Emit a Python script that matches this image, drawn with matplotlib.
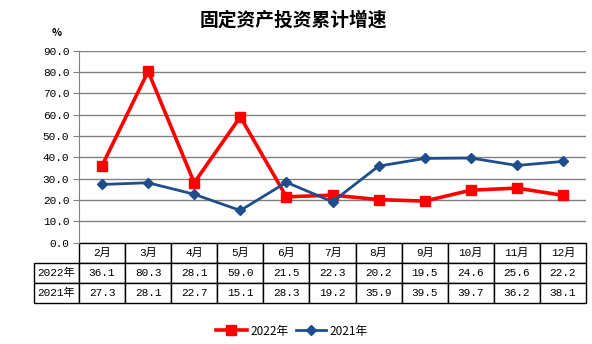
import matplotlib
matplotlib.use("Agg")
import matplotlib.pyplot as plt

plt.rcParams['font.family'] = ['Noto Sans CJK SC', 'DejaVu Sans']
mono = ['Liberation Mono', 'Noto Sans CJK SC']

months = ['2月', '3月', '4月', '5月', '6月', '7月', '8月', '9月', '10月', '11月', '12月']
growth_2022 = [36.1, 80.3, 28.1, 59.0, 21.5, 22.3, 20.2, 19.5, 24.6, 25.6, 22.2]
growth_2021 = [27.3, 28.1, 22.7, 15.1, 28.3, 19.2, 35.9, 39.5, 39.7, 36.2, 38.1]
series_names = ['2022年', '2021年']
y_ticks = [0, 10, 20, 30, 40, 50, 60, 70, 80, 90]

W, H = 592, 344
fig = plt.figure(figsize=(W / 100, H / 100), dpi=100)

# plot area in pixel coordinates
left, right, top, bottom = 79, 586, 50.7, 242.7
ax = fig.add_axes([left / W, 1 - bottom / H, (right - left) / W, (bottom - top) / H])

x = list(range(len(months)))
ax.plot(x, growth_2022, color='#FF0000', lw=2.6, marker='s', ms=7.5,
        label=series_names[0], zorder=3)
ax.plot(x, growth_2021, color='#1F4E8C', lw=2.0, marker='D', ms=5,
        label=series_names[1], zorder=3)

ax.set_xlim(-0.5, len(months) - 0.5)
ax.set_ylim(0, 90)
ax.set_yticks(y_ticks)
ax.set_yticklabels([f'{v:.1f}' for v in y_ticks], fontsize=8, family=mono)
ax.set_xticks([])
ax.grid(axis='y', color='#808080', lw=1)
ax.set_axisbelow(True)
for s in ['top', 'right', 'bottom']:
    ax.spines[s].set_visible(False)
ax.spines['left'].set_color('#808080')
ax.tick_params(axis='y', color='#808080', length=4, pad=3)

# data table under the plot, with row labels as first column
label_w = left - 34
cells = [[''] + months,
         [series_names[0]] + [f'{v:.1f}' for v in growth_2022],
         [series_names[1]] + [f'{v:.1f}' for v in growth_2021]]
plot_w = right - left
tbl_h = (302.7 - bottom) / (bottom - top)
col_w = [label_w] + [plot_w / len(months)] * len(months)
tbl = ax.table(cellText=cells, cellLoc='center', colWidths=[c / plot_w for c in col_w],
               bbox=[-label_w / plot_w, -tbl_h, 1 + label_w / plot_w, tbl_h])
tbl.auto_set_font_size(False)
tbl.set_fontsize(8)
for (r, c), cell in tbl.get_celld().items():
    cell.set_linewidth(1.0)
    cell.set_edgecolor('black')
    cell.get_text().set_family(mono)
    if r == 0 and c == 0:
        cell.visible_edges = 'open'

fig.text(293 / W, 1 - 20 / H, '固定资产投资累计增速', ha='center', va='center',
         fontsize=13.5, fontweight='bold')
fig.text(57 / W, 1 - 33 / H, '%', ha='center', va='center', fontsize=7.5,
         fontweight='bold')

fig.legend(loc='center', bbox_to_anchor=(292 / W, 1 - 331 / H), ncol=2,
           frameon=False, fontsize=8.5, handlelength=2.6, columnspacing=0.6,
           handletextpad=0.3)

fig.savefig('out.png', dpi=100)
